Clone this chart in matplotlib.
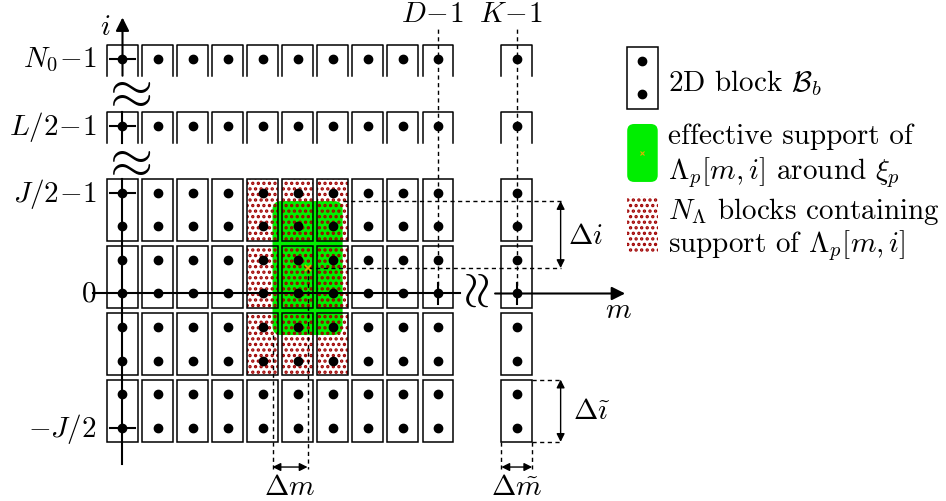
import numpy as np
import matplotlib.pyplot as plt
from matplotlib.patches import Rectangle, FancyBboxPatch

plt.rcParams['mathtext.fontset'] = 'cm'
plt.rcParams['font.family'] = 'cmr10'
plt.rcParams['axes.unicode_minus'] = False
plt.rcParams['hatch.linewidth'] = 1.6

# block grid: columns in m, each block holds two rows in i
cols = [0, 1, 2, 3, 4, 5, 6, 7, 8, 9]    # m = 0 ... D-1
col_K = 11.25                              # m = K-1 (after the gap)
block_tops = [3, 1, -1, -3]                # upper i row of each 2-row block
top_rows = [7, 5]                          # N0-1 and L/2-1 (cut-off rows)
row_labels = [r'$N_0\!-\!1$', r'$L/2\!-\!1$', r'$J/2\!-\!1$', r'$0$', r'$-J/2$']
row_label_pos = [7, 5, 3, 0, -4]
tick_rows = [7, 5, 3, -4]
col_labels = [r'$D\!-\!1$', r'$K\!-\!1$']
col_label_pos = [9, col_K]

# effective support around xi_p and the N_Lambda blocks it touches
xi_p = (5.28, 0.76)
d_m, d_i = 1.0, 2.0
supp_cols = [4, 5, 6]
supp_block_tops = [3, 1, -1]

green = '#00ee00'
red = '#a00000'
hw, pad = 0.44, 0.43   # block half width, block padding above/below dots
fs = 21
ms = 6

fig = plt.figure(figsize=(9.46, 5.02), dpi=100)
ax = fig.add_axes([0, 0, 1, 1])
ax.set_xlim(-3.495, 23.495)
ax.set_ylim(-6.194, 8.791)
ax.axis('off')

# blocks and sample dots
for c in cols + [col_K]:
    for t in block_tops:
        ax.add_patch(Rectangle((c - hw, t - 1 - pad), 2 * hw, 1 + 2 * pad,
                               fill=False, lw=1.1, ec='k', zorder=3))
        ax.plot([c, c], [t, t - 1], 'ko', ms=ms, zorder=6)
    for r in top_rows:
        ax.plot([c - hw, c - hw, c + hw, c + hw], [r - 0.5, r + pad, r + pad, r - 0.5],
                'k-', lw=1.1, zorder=3)
        ax.plot(c, r, 'ko', ms=ms, zorder=6)

# green support and stippled blocks
ax.add_patch(FancyBboxPatch((xi_p[0] - d_m, xi_p[1] - d_i), 2 * d_m, 2 * d_i,
                            boxstyle='round,pad=0,rounding_size=0.25',
                            fc=green, ec='none', zorder=1))
for c in supp_cols:
    for t in supp_block_tops:
        ax.add_patch(Rectangle((c - hw, t - 1 - pad), 2 * hw, 1 + 2 * pad,
                               fill=False, ec=red, lw=0, hatch='...', zorder=2))
ax.plot(*xi_p, 'x', color='#e0b000', ms=5, mew=1.2, zorder=7)

# axes
ax.plot([0, 0], [-5.09, 3 + pad], 'k-', lw=1.5, zorder=5)
ax.plot([0, 0], [5 - 0.5, 5 + pad], 'k-', lw=1.5, zorder=5)
ax.annotate('', xy=(0, 8.24), xytext=(0, 6.5),
            arrowprops=dict(arrowstyle='-|>', lw=1.5, color='k', mutation_scale=20,
                            shrinkA=0, shrinkB=0), zorder=5)
ax.plot([-0.84, 9.63], [0, 0], 'k-', lw=1.5, zorder=5)
ax.annotate('', xy=(14.34, 0), xytext=(10.63, 0),
            arrowprops=dict(arrowstyle='-|>', lw=1.5, color='k', mutation_scale=20,
                            shrinkA=0, shrinkB=0), zorder=5)
for r in tick_rows:
    ax.plot([-0.35, 0.35], [r, r], 'k-', lw=1.5, zorder=5)
for c in col_label_pos:
    ax.plot([c, c], [-0.3, 0.3], 'k-', lw=1.5, zorder=5)
    ax.plot([c, c], [0, 7.93], 'k--', lw=1.0, dashes=(3, 2.5), zorder=4)

ax.text(0.1, 6.0, r'$\approx$', fontsize=40, ha='center', va='center')
ax.text(0.1, 3.96, r'$\approx$', fontsize=40, ha='center', va='center')
ax.text(10.13, 0, r'$\approx$', fontsize=36, rotation=90, ha='center', va='center')

for lab, pos in zip(row_labels, row_label_pos):
    ax.text(-0.73, pos, lab, fontsize=fs, ha='right', va='center')
for lab, pos in zip(col_labels, col_label_pos):
    ax.text(pos - 0.16, 8.34, lab, fontsize=fs, ha='center', va='center')
ax.text(-0.5, 7.96, '$i$', fontsize=fs, ha='center', va='center')
ax.text(14.14, -0.49, '$m$', fontsize=fs, ha='center', va='center')

# size annotations
darr = dict(arrowstyle='<|-|>', lw=1.0, color='k', mutation_scale=12, shrinkA=0, shrinkB=0)
dash = dict(color='k', lw=1.0, ls='--', dashes=(3, 2.5), zorder=4)
x_arr = 12.5
ax.plot([xi_p[0] + d_m, x_arr], [xi_p[1] + d_i] * 2, **dash)
ax.plot([xi_p[0], x_arr], [xi_p[1]] * 2, **dash)
ax.annotate('', xy=(x_arr, xi_p[1] + d_i), xytext=(x_arr, xi_p[1]), arrowprops=darr)
ax.text(12.71, 1.72, r'$\Delta i$', fontsize=fs, ha='left', va='center')

ax.plot([col_K + hw, x_arr], [-3 + pad] * 2, **dash)
ax.plot([col_K + hw, x_arr], [-4 - pad] * 2, **dash)
ax.annotate('', xy=(x_arr, -3 + pad), xytext=(x_arr, -4 - pad), arrowprops=darr)
ax.text(12.85, -3.5, r'$\Delta\tilde{\imath}$', fontsize=fs, ha='left', va='center')

y_arr = -5.18
ax.plot([xi_p[0] - d_m] * 2, [xi_p[1] - d_i, -5.24], **dash)
ax.plot([xi_p[0]] * 2, [xi_p[1], -5.24], **dash)
ax.annotate('', xy=(xi_p[0] - d_m, y_arr), xytext=(xi_p[0], y_arr), arrowprops=darr)
ax.text(xi_p[0] - d_m / 2, -5.78, r'$\Delta m$', fontsize=fs, ha='center', va='center')

ax.plot([col_K - hw] * 2, [-4 - pad, -5.24], **dash)
ax.plot([col_K + hw] * 2, [-4 - pad, -5.24], **dash)
ax.annotate('', xy=(col_K - hw, y_arr), xytext=(col_K + hw, y_arr), arrowprops=darr)
ax.text(col_K, -5.78, r'$\Delta\tilde{m}$', fontsize=fs, ha='center', va='center')

# legend
lx, lw_ = 14.40, 0.87
ax.add_patch(Rectangle((lx, 5.51), lw_, 1.84, fill=False, ec='k', lw=1.1))
ax.plot([lx + lw_ / 2] * 2, [6.93, 5.96], 'ko', ms=ms)
ax.add_patch(FancyBboxPatch((lx, 3.33), lw_, 1.73, boxstyle='round,pad=0,rounding_size=0.2',
                            fc=green, ec='none'))
ax.plot(lx + lw_ / 2, 4.2, 'x', color='#e0b000', ms=3, mew=0.8)
ax.add_patch(Rectangle((lx, 1.24), lw_, 1.67, fill=False, ec=red, lw=0, hatch='...'))
tx = 15.56
ax.text(tx, 6.31, r'2D block $\mathcal{B}_b$', fontsize=fs, va='center')
ax.text(tx, 4.72, 'effective support of', fontsize=fs, va='center')
ax.text(tx, 3.64, r'$\Lambda_p[m,i]$ around $\xi_p$', fontsize=fs, va='center')
ax.text(tx, 2.48, r'$N_\Lambda$ blocks containing', fontsize=fs, va='center')
ax.text(tx, 1.47, r'support of $\Lambda_p[m,i]$', fontsize=fs, va='center')

fig.savefig('out.png', dpi=100)
